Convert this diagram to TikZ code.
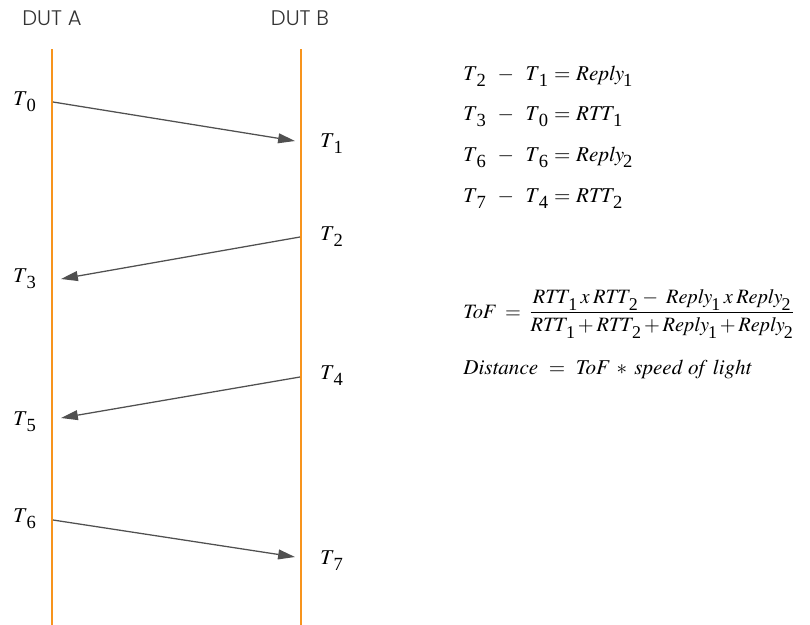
\documentclass[tikz,border=0pt]{standalone}
\usepackage{amsmath}
\usepackage{mathptmx}
\usepackage{fontspec}
\setmainfont{Liberation Serif}
\newfontfamily\dutfont{Poppins Light}
\usetikzlibrary{arrows.meta}

\definecolor{lifeline}{HTML}{F7941D}
\definecolor{msggray}{HTML}{505050}

\makeatletter
\newcommand{\lo}[1]{\mkern-1mu\mbox{\raisebox{-0.3em}{\fontsize{\strip@pt\dimexpr\f@size pt*22/25\relax}{1em}\selectfont #1}}}
\makeatother
\newcommand{\lessminus}{\mskip10mu{-}\mskip10mu}
\newcommand{\wideeq}{\mskip5mu{=}\mskip5mu}
\newcommand{\by}{\mskip3mu x\mskip3mu}

\tikzset{
  dut/.style={font=\dutfont\fontsize{15}{17}\selectfont, text=black!80},
  lifeline/.style={draw=lifeline, line width=2.1pt},
  msg/.style={draw=msggray, line width=0.9pt, -{Triangle[length=12pt,width=7pt]}},
  stamp/.style={anchor=base west, inner sep=0pt, font=\fontsize{15}{18}\selectfont},
  eqn/.style={anchor=base west, inner sep=0pt, font=\fontsize{15}{18}\selectfont},
  frac eqn/.style={anchor=base west, inner sep=0pt, font=\fontsize{14.5}{17}\selectfont}
}

\begin{document}
\begin{tikzpicture}[x=0.025cm, y=-0.025cm]
        \useasboundingbox (0,0) rectangle (810,625);

        \node[dut] (DUT-A) at (52,18) {DUT A};
        \node[dut] (DUT-B) at (300,18) {DUT B};

        \coordinate (A-top) at (52,49);
        \coordinate (A-bottom) at (52,625);
        \coordinate (B-top) at (301,49);
        \coordinate (B-bottom) at (301,625);
        \draw[lifeline] (A-top) -- (A-bottom);
        \draw[lifeline] (B-top) -- (B-bottom);

        \coordinate (A-send-1) at (53,102);
        \coordinate (B-recv-1) at (295,141);
        \coordinate (B-send-1) at (300,237);
        \coordinate (A-recv-1) at (61,279);
        \coordinate (B-send-2) at (300,377);
        \coordinate (A-recv-2) at (61,418);
        \coordinate (A-send-2) at (53,520);
        \coordinate (B-recv-2) at (295,557);

        \draw[msg] (A-send-1) -- (B-recv-1);
        \draw[msg] (B-send-1) -- (A-recv-1);
        \draw[msg] (B-send-2) -- (A-recv-2);
        \draw[msg] (A-send-2) -- (B-recv-2);

        \node[stamp] (T0) at (13,105) {$T\lo{0}$};
        \node[stamp] (T1) at (320,147) {$T\lo{1}$};
        \node[stamp] (T2) at (320,240) {$T\lo{2}$};
        \node[stamp] (T3) at (13,282) {$T\lo{3}$};
        \node[stamp] (T4) at (320,379) {$T\lo{4}$};
        \node[stamp] (T5) at (13,425) {$T\lo{5}$};
        \node[stamp] (T6) at (13,522) {$T\lo{6}$};
        \node[stamp] (T7) at (320,564) {$T\lo{7}$};

        \node[eqn] (Reply-1) at (463,80) {$T\lo{2} \lessminus T\lo{1} \wideeq \mathit{Reply}\lo{1}$};
        \node[eqn] (RTT-1) at (463,120) {$T\lo{3} \lessminus T\lo{0} \wideeq \mathit{RTT}\lo{1}$};
        \node[eqn] (Reply-2) at (463,161) {$T\lo{6} \lessminus T\lo{6} \wideeq \mathit{Reply}\lo{2}$};
        \node[eqn] (RTT-2) at (463,202) {$T\lo{7} \lessminus T\lo{4} \wideeq \mathit{RTT}\lo{2}$};

        \node[frac eqn] (ToF) at (463,318) {$\mathit{ToF} \mskip8mu{=}\mskip7mu \dfrac{\mathit{RTT}\lo{1}\by\mathit{RTT}\lo{2} \mskip4mu{-}\mskip7mu \mathit{Reply}\lo{1}\by\mathit{Reply}\lo{2}}{\mathit{RTT}\lo{1} + \mathit{RTT}\lo{2} + \mathit{Reply}\lo{1} + \mathit{Reply}\lo{2}}$};

        \node[eqn] (Distance) at (463,374) {$\mathit{Distance} \mskip9mu{=}\mskip9mu \mathit{ToF} \mskip6mu{*}\mskip6mu \mathit{speed\ of\ light}$};
\end{tikzpicture}
\end{document}
